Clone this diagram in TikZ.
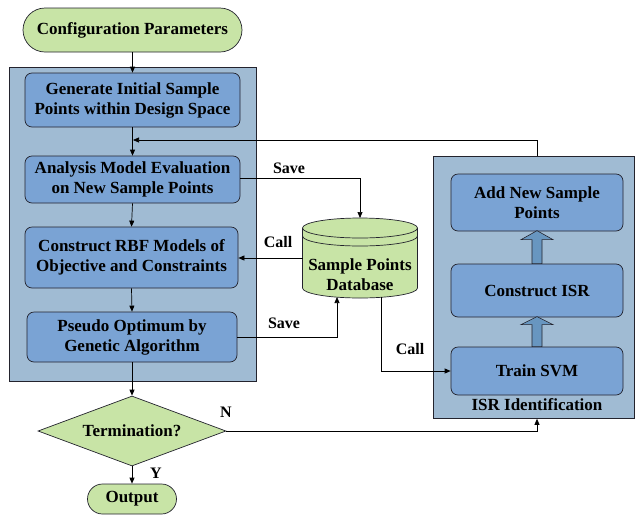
\documentclass[tikz,border=0pt]{standalone}
\usepackage{fontspec}
\setmainfont{Liberation Serif}
\usetikzlibrary{arrows.meta,shapes.geometric,shapes.misc,calc}
\definecolor{lgreen}{RGB}{200,228,166}
\definecolor{panelblue}{RGB}{160,187,211}
\definecolor{boxblue}{RGB}{122,163,212}
\definecolor{arrblue}{RGB}{104,150,192}
\definecolor{edge}{RGB}{35,35,45}
\begin{document}
\begin{tikzpicture}[x=1pt,y=-1pt,
  every node/.style={font=\fontsize{17}{20}\selectfont\bfseries, text=black, align=center, inner sep=0pt},
  panelbox/.style={draw=edge, fill=panelblue, line width=0.8pt},
  procbox/.style={draw=edge, fill=boxblue, rounded corners=7pt, line width=0.7pt},
  termbox/.style={draw=edge, fill=lgreen, rounded rectangle, line width=0.7pt},
  decbox/.style={draw=edge, fill=lgreen, diamond, aspect=2.7, line width=0.7pt},
  arr/.style={draw=black, line width=0.7pt, -{Triangle[length=6pt,width=5pt]}},
  fatarr/.style={draw=edge, fill=arrblue, line width=0.6pt},
  lbl/.style={font=\fontsize{16}{19}\selectfont\bfseries}
]
\useasboundingbox (0,0) rectangle (635,515);

% panels
\node[panelbox, minimum width=247, minimum height=314] (panel) at (132.5,224) {};
\node[panelbox, minimum width=200.5, minimum height=262, anchor=north west] (isr) at (433,156) {};

% start
\node[termbox, minimum width=219, minimum height=44] (cfg) at (132.5,30) {Configuration Parameters};

% left column
\node[procbox, minimum width=215, minimum height=54] (gen) at (132.5,100) {Generate Initial Sample\\Points within Design Space};
\node[procbox, minimum width=215, minimum height=47] (ana) at (132.5,179.5) {Analysis Model Evaluation\\on New Sample Points};
\node[procbox, minimum width=213, minimum height=61] (rbf) at (131.5,257.5) {Construct RBF Models of\\Objective and Constraints};
\node[procbox, minimum width=210, minimum height=50] (pso) at (132,337) {Pseudo Optimum by\\Genetic Algorithm};

\node[decbox, minimum width=188, minimum height=70] (dia) at (132,431) {Termination?};
\node[termbox, minimum width=89, minimum height=30] (out) at (132,499) {Output};

% right column
\node[procbox, minimum width=172, minimum height=57] (add) at (537,202.5) {Add New Sample\\Points};
\node[procbox, minimum width=172, minimum height=53] (csr) at (537,290.5) {Construct ISR};
\node[procbox, minimum width=172, minimum height=48] (svm) at (537,371) {Train SVM};
\node[anchor=center] (isrlbl) at (537,405) {ISR Identification};

% database cylinder
\coordinate (dbtop) at (360,218);
\fill[lgreen] (302.5,228) -- (302.5,288) arc[start angle=180,end angle=0,x radius=57.5,y radius=10] -- (417.5,228) arc[start angle=0,end angle=-180,x radius=57.5,y radius=10] -- cycle;
\draw[edge, line width=0.7pt] (302.5,228) -- (302.5,288) arc[start angle=180,end angle=0,x radius=57.5,y radius=10] -- (417.5,228);
\draw[edge, line width=0.7pt] (360,228) ellipse[x radius=57.5,y radius=10];
\draw[edge, line width=0.7pt] (302.5,236) arc[start angle=180,end angle=0,x radius=57.5,y radius=10];
\node (db) at (360,274.5) {Sample Points\\Database};
\coordinate (dbleft) at (302.5,258);
\coordinate (dbin) at (337,297);
\coordinate (dbout) at (381,297);

% connectors
\draw[arr] (cfg.south) -- (gen.north);
\draw[arr] (gen.south) -- (ana.north);
\coordinate (fb) at (133,140);
\draw[arr] (add.north |- isr.north) |- (fb);
\draw[arr] (ana.south) -- (rbf.north);
\draw[arr] (rbf.south) -- (pso.north);
\draw[arr] (panel.south -| pso.south) -- (dia.north);
\draw[line width=0.7pt] (pso.south) -- (panel.south -| pso.south);
\draw[arr] (dia.south) -- (out.north);

\draw[arr] (ana.east |- 0,178) -| (dbtop);
\draw[arr] (dbleft) -- (rbf.east |- dbleft);
\draw[arr] (pso.east) -| (dbin);
\draw[arr] (dbout) |- (svm.west);
\draw[arr] (dia.east) -| (add.south |- isr.south);

% labels
\node[lbl] (s1) at (289,168) {Save};
\node[lbl] (c1) at (278,242) {Call};
\node[lbl] (s2) at (284,323) {Save};
\node[lbl] (c2) at (410,349) {Call};
\node[lbl] (nl) at (226,412) {N};
\node[lbl] (yl) at (156,473) {Y};

% fat arrows
\fill[fatarr] ($(csr.north)+(-5,0)$) -- ++(0,-24) -- ++(-11,0) -- ++(16,-9) -- ++(16,9) -- ++(-11,0) -- ++(0,24) -- cycle;
\fill[fatarr] ($(svm.north)+(-5,0)$) -- ++(0,-22) -- ++(-11,0) -- ++(16,-8) -- ++(16,8) -- ++(-11,0) -- ++(0,22) -- cycle;
\end{tikzpicture}
\end{document}
